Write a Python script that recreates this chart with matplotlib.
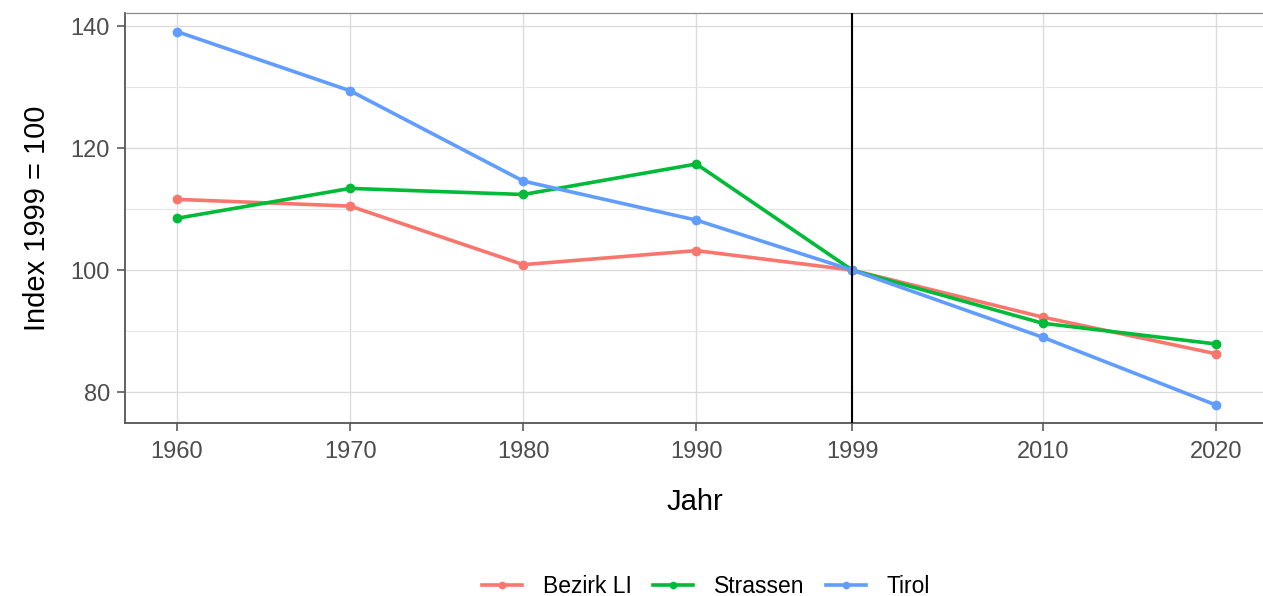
import numpy as np
import matplotlib.pyplot as plt

plt.rcParams['font.family'] = ['Liberation Sans', 'DejaVu Sans']

jahre = [1960, 1970, 1980, 1990, 1999, 2010, 2020]
bezirk_li = [111.6, 110.5, 100.9, 103.2, 100.0, 92.3, 86.3]
strassen = [108.5, 113.4, 112.4, 117.4, 100.0, 91.3, 87.9]
tirol = [139.1, 129.4, 114.6, 108.2, 100.0, 89.0, 77.9]

namen = ['Bezirk LI', 'Strassen', 'Tirol']
farben = ['#F8766D', '#00BA38', '#619CFF']

fig = plt.figure(figsize=(12.63, 5.96), dpi=100)
ax = fig.add_axes([0.099, 0.2898, 0.902, 0.6879])

for name, werte, col in zip(namen, [bezirk_li, strassen, tirol], farben):
    ax.plot(jahre, werte, color=col, lw=2.6, marker='o', ms=6, label=name, zorder=3)

ax.axvline(1999, color='black', lw=1.5, zorder=4)

ax.set_xlim(1957, 2022.8)
ax.set_ylim(74.9, 142.1)
ax.set_xticks(jahre)
ax.set_yticks([80, 100, 120, 140])
ax.set_yticks([90, 110, 130], minor=True)
ax.grid(which='major', color='#DCDCDC', lw=1.0, zorder=0)
ax.grid(which='minor', axis='y', color='#E6E6E6', lw=0.8, zorder=0)
ax.tick_params(axis='both', which='major', labelsize=17, labelcolor='#4D4D4D',
               color='#4D4D4D', length=6, width=1.1)
ax.tick_params(axis='y', which='minor', length=0)
ax.tick_params(axis='x', pad=7)
ax.tick_params(axis='y', pad=5)

for s in ['left', 'bottom']:
    ax.spines[s].set_color('#555555')
    ax.spines[s].set_linewidth(1.3)
for s in ['top', 'right']:
    ax.spines[s].set_color('#8C8C8C')
    ax.spines[s].set_linewidth(0.9)

ax.set_xlabel('Jahr', fontsize=21, labelpad=18)
ax.set_ylabel('Index 1999 = 100', fontsize=21, labelpad=14)

handles, labels = ax.get_legend_handles_labels()
fig.legend(handles, labels, loc='center', bbox_to_anchor=(0.559, 0.016), ncol=3,
           frameon=False, fontsize=16.5, handlelength=1.75, columnspacing=0.95,
           handletextpad=0.9, markerscale=0.75)

fig.savefig('out.png', dpi=100)
